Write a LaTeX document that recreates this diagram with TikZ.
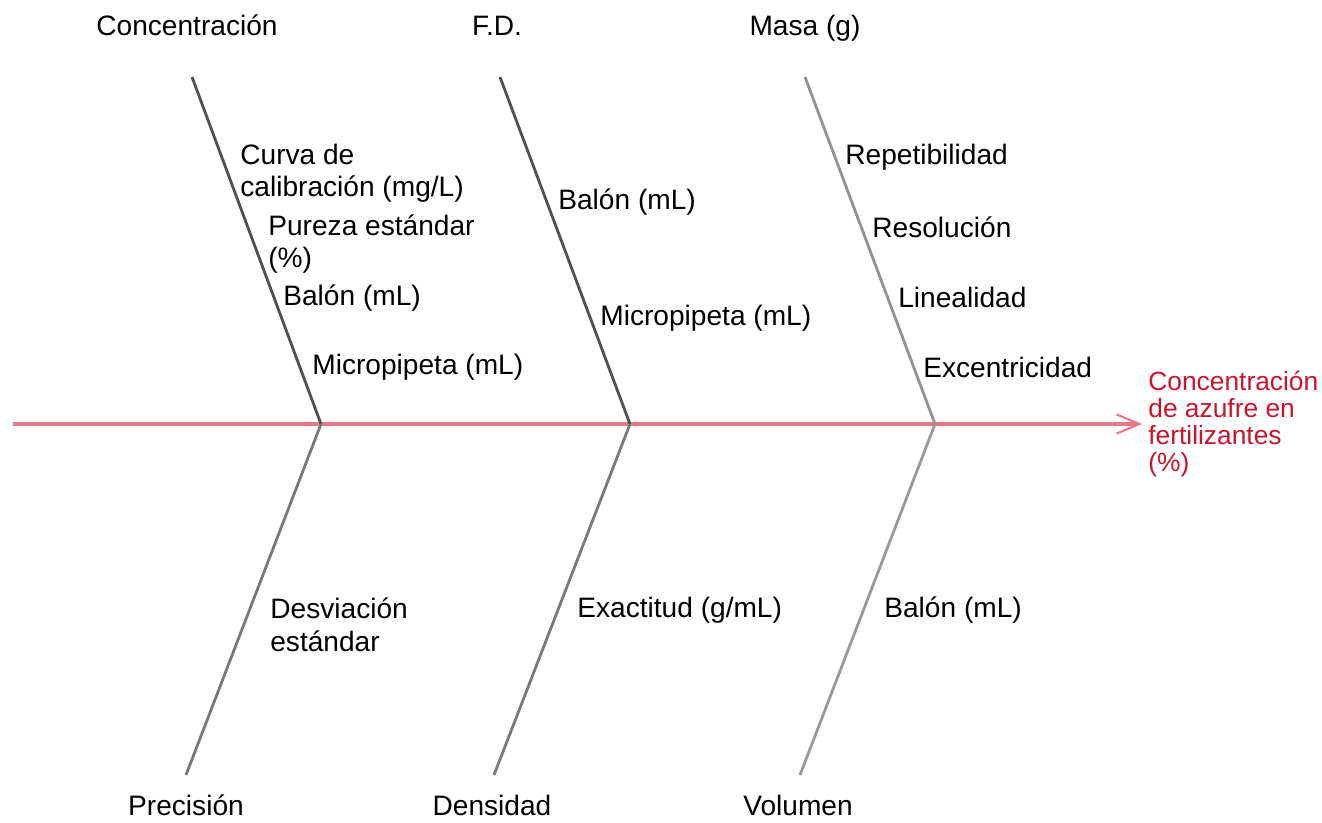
\documentclass[tikz,border=0pt]{standalone}
\usepackage{fontspec}
\setmainfont{Liberation Sans}
\usetikzlibrary{arrows.meta}

\definecolor{spinered}{RGB}{234,120,132}
\definecolor{headred}{RGB}{200,20,46}
\definecolor{bonegray}{RGB}{80,80,80}

\tikzset{
    bone/.style={line width=1.6pt, bonegray},
    cause/.style={inner sep=0pt, anchor=west, align=left,
        font=\fontsize{16}{18.5}\selectfont},
    category/.style={inner sep=0pt, anchor=base, font=\fontsize{16}{18.5}\selectfont}
}

\begin{document}
\begin{tikzpicture}[x=0.02cm,y=-0.02cm]
        % fix the page to the reference size
        \useasboundingbox (0,0) rectangle (1322,822);

        % points of the spine
        \coordinate (tail) at (13,424);
        \coordinate (head) at (1142,424);
        \coordinate (j1) at (321,424);
        \coordinate (j2) at (630,424);
        \coordinate (j3) at (935,424);

        % ends of the bones
        \coordinate (t1) at (192,77);
        \coordinate (t2) at (500,77);
        \coordinate (t3) at (805,77);
        \coordinate (b1) at (186,775);
        \coordinate (b2) at (494,775);
        \coordinate (b3) at (800,775);

        % draw the spine with the effect
        \draw[line width=1.8pt, spinered, -{Straight Barb[length=13pt,width=11pt,line width=1.2pt]}] (tail) -- (head);
        \node[cause, headred, font=\fontsize{15}{15.5}\selectfont] (effect) at (1148,424)
            {Concentración\\de azufre en\\fertilizantes\\(\%)};

        % draw the upper bones
        \draw[bone] (t1) -- (j1);
        \draw[bone] (t2) -- (j2);
        \draw[bone, gray!85] (t3) -- (j3);

        % draw the lower bones
        \draw[bone, gray!95!black] (j1) -- (b1);
        \draw[bone, gray!95!black] (j2) -- (b2);
        \draw[bone, gray!80] (j3) -- (b3);

        % categories on top
        \node[category] (conc) at (187,35) {Concentración};
        \node[category] (fd) at (497,35) {F.D.};
        \node[category] (masa) at (805,35) {Masa (g)};

        % categories at the bottom
        \node[category] (prec) at (186,815) {Precisión};
        \node[category] (dens) at (492,815) {Densidad};
        \node[category] (vol) at (798,815) {Volumen};

        % causes of the concentration
        \node[cause] (curva) at (240,173) {Curva de\\calibración (mg/L)};
        \node[cause] (pureza) at (268,244) {Pureza estándar\\(\%)};
        \node[cause] (balon1) at (283,298) {Balón (mL)};
        \node[cause] (micro1) at (312,367) {Micropipeta (mL)};

        % causes of the dilution factor
        \node[cause] (balon2) at (558,202) {Balón (mL)};
        \node[cause] (micro2) at (600,318) {Micropipeta (mL)};

        % causes of the mass
        \node[cause] (repe) at (845,157) {Repetibilidad};
        \node[cause] (reso) at (872,227) {Resolución};
        \node[cause] (line) at (898,297) {Linealidad};
        \node[cause] (exce) at (923,367) {Excentricidad};

        % causes at the bottom
        \node[cause] (desv) at (270,625) {Desviación\\estándar};
        \node[cause] (exac) at (577,610) {Exactitud (g/mL)};
        \node[cause] (balon3) at (884,610) {Balón (mL)};
    \end{tikzpicture}
\end{document}
